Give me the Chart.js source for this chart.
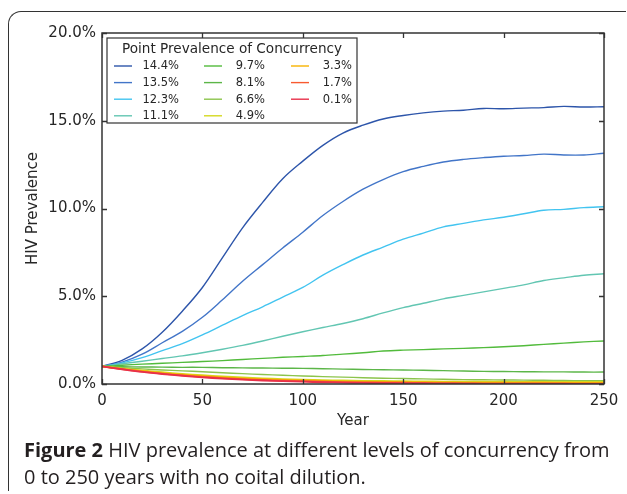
<!DOCTYPE html>
<html><head><meta charset="utf-8">
<script src="https://cdn.jsdelivr.net/npm/chart.js@4"></script>
<style>
html,body{margin:0;padding:0;background:#fff;}
#wrap{position:relative;width:627px;height:494px;overflow:hidden;background:#fff;}
#frame{position:absolute;left:8px;top:11px;width:617px;height:479px;border-top:1.5px solid #333;border-left:1.5px solid #333;border-top-left-radius:13px;}
#cv{position:absolute;left:0;top:0;}
#cap{position:absolute;left:24px;top:436px;white-space:nowrap;font-family:"Open Sans";font-size:20px;line-height:27px;color:#231f20;}
#cap b{font-weight:700;}
</style></head>
<body>
<div id="wrap">
<div id="frame"></div>
<canvas id="cv" width="627" height="494"></canvas>
<div id="cap"><b>Figure 2</b> HIV prevalence at different levels of concurrency from<br>0 to 250 years with no coital dilution.</div>
</div>
<script>
const years = [0,10,20,30,40,50,60,70,80,90,100,110,120,130,140,150,160,170,180,190,200,210,220,230,240,250];
const seriesLabels = ['14.4%','13.5%','12.3%','11.1%','9.7%','8.1%','6.6%','4.9%','3.3%','1.7%','0.1%'];
const seriesColors = ['#2d55aa','#4275c8','#42c4f0','#62c6b2','#52bb3c','#5cb648','#8cc44c','#d4d820','#f8b400','#f85a30','#e8304a'];
const xTicks = [0,50,100,150,200,250];
const yTicks = [0,5,10,15,20];

const s144 = [1.0,1.35,2.0,2.95,4.15,5.5,7.2,8.9,10.35,11.7,12.7,13.6,14.3,14.75,15.1,15.3,15.45,15.55,15.6,15.7,15.68,15.72,15.75,15.82,15.78,15.8];
const s135 = [1.0,1.25,1.7,2.35,3.0,3.8,4.8,5.85,6.8,7.75,8.65,9.6,10.4,11.1,11.65,12.1,12.4,12.65,12.8,12.9,12.98,13.02,13.1,13.05,13.05,13.15];
const s123 = [1.0,1.2,1.5,1.9,2.3,2.8,3.35,3.9,4.4,4.95,5.5,6.2,6.8,7.35,7.8,8.25,8.6,8.95,9.15,9.35,9.5,9.7,9.9,9.95,10.05,10.1];
const s111 = [1.0,1.15,1.3,1.45,1.6,1.78,1.98,2.2,2.45,2.72,2.98,3.22,3.45,3.72,4.05,4.35,4.6,4.85,5.05,5.25,5.45,5.65,5.9,6.05,6.2,6.28];
const s97  = [1.0,1.07,1.13,1.18,1.23,1.28,1.33,1.4,1.46,1.52,1.57,1.62,1.7,1.78,1.88,1.93,1.96,2.0,2.03,2.07,2.12,2.18,2.26,2.33,2.4,2.45];
const s81  = [1.0,0.98,0.97,0.96,0.95,0.95,0.93,0.92,0.91,0.9,0.89,0.87,0.85,0.83,0.81,0.8,0.78,0.76,0.74,0.72,0.71,0.7,0.69,0.69,0.68,0.68];
const s66  = [1.0,0.93,0.86,0.8,0.75,0.7,0.64,0.59,0.54,0.5,0.46,0.42,0.39,0.36,0.33,0.31,0.29,0.27,0.25,0.24,0.23,0.22,0.21,0.2,0.19,0.19];
const s49  = [1.0,0.88,0.77,0.67,0.58,0.5,0.43,0.37,0.32,0.28,0.25,0.22,0.2,0.18,0.17,0.16,0.15,0.14,0.14,0.13,0.13,0.12,0.12,0.12,0.12,0.12];
const s33  = [1.0,0.86,0.73,0.62,0.53,0.45,0.38,0.32,0.27,0.23,0.2,0.17,0.15,0.13,0.12,0.11,0.1,0.09,0.08,0.08,0.07,0.07,0.07,0.06,0.06,0.06];
const s17  = [1.0,0.85,0.71,0.59,0.49,0.41,0.34,0.28,0.23,0.19,0.16,0.13,0.11,0.09,0.08,0.07,0.06,0.05,0.04,0.04,0.03,0.03,0.03,0.03,0.02,0.02];
const s01  = [1.0,0.84,0.69,0.57,0.47,0.38,0.31,0.25,0.2,0.16,0.13,0.1,0.08,0.06,0.05,0.04,0.03,0.02,0.02,0.01,0.01,0.01,0.0,0.0,0.0,0.0];

const allSeries = [s144,s135,s123,s111,s97,s81,s66,s49,s33,s17,s01];
const legendTitle = 'Point Prevalence of Concurrency';

const datasets = allSeries.map((s,i)=>({
  label: seriesLabels[i],
  data: s.map((v,j)=>({x:years[j], y:v})),
  borderColor: seriesColors[i],
  backgroundColor: seriesColors[i],
  borderWidth: i >= 7 ? 1.8 : 1.4,
  pointRadius: 0,
  fill: false,
  tension: 0.35,
  order: allSeries.length - i
}));

const TXT = '#262626';
const decor = {
  id: 'decor',
  afterDraw(chart){
    const ctx = chart.ctx, a = chart.chartArea;
    const xs = chart.scales.x, ys = chart.scales.y;
    ctx.save();
    ctx.strokeStyle = '#333';
    ctx.lineWidth = 1.3;
    ctx.beginPath();
    xTicks.forEach(t=>{
      const px = Math.round(xs.getPixelForValue(t))+0.5;
      ctx.moveTo(px,a.bottom); ctx.lineTo(px,a.bottom-5);
      ctx.moveTo(px,a.top); ctx.lineTo(px,a.top+5);
    });
    yTicks.forEach(t=>{
      const py = Math.round(ys.getPixelForValue(t))+0.5;
      ctx.moveTo(a.left,py); ctx.lineTo(a.left+5,py);
      ctx.moveTo(a.right,py); ctx.lineTo(a.right-5,py);
    });
    ctx.stroke();
    ctx.lineWidth = 1.5;
    ctx.strokeRect(a.left, a.top, a.right-a.left, a.bottom-a.top);
    const bx = a.left+5, by = a.top+5, bw = 250, bh = 85;
    ctx.fillStyle = '#fff';
    ctx.fillRect(bx,by,bw,bh);
    ctx.lineWidth = 1.2;
    ctx.strokeStyle = '#333';
    ctx.strokeRect(bx,by,bw,bh);
    ctx.fillStyle = TXT;
    ctx.font = '13.6px "DejaVu Sans"';
    ctx.textAlign = 'center';
    ctx.textBaseline = 'middle';
    ctx.fillText(legendTitle, bx+bw/2, by+11);
    ctx.font = '11.5px "DejaVu Sans"';
    ctx.textAlign = 'right';
    const colLine = [7, 97, 184];
    const colText = [72, 158, 245];
    seriesLabels.forEach((lab,i)=>{
      const c = Math.floor(i/4), r = i%4;
      const y = by + 28 + r*16.6;
      ctx.strokeStyle = seriesColors[i];
      ctx.lineWidth = 1.4;
      ctx.beginPath();
      ctx.moveTo(bx+colLine[c], y); ctx.lineTo(bx+colLine[c]+18, y);
      ctx.stroke();
      ctx.fillStyle = TXT;
      ctx.fillText(lab, bx+colText[c], y+0.5);
    });
    ctx.restore();
  }
};

new Chart(document.getElementById('cv'), {
  type: 'line',
  data: { datasets },
  options: {
    responsive: false,
    animation: false,
    devicePixelRatio: 1,
    layout: { padding: { left: 20, right: 23, top: 33, bottom: 60 } },
    plugins: { legend: { display: false }, tooltip: { enabled: false } },
    scales: {
      x: {
        type: 'linear', min: 0, max: 250,
        afterBuildTicks(scale){ scale.ticks = xTicks.map(v=>({value:v})); },
        afterFit(scale){ scale.height = 50; },
        grid: { display: false, drawTicks: false },
        border: { display: false },
        ticks: { color: TXT, font: { family: 'DejaVu Sans', size: 15 }, padding: 8, maxRotation: 0 },
        title: { display: true, text: 'Year', color: TXT, font: { family: 'DejaVu Sans', size: 15 }, padding: { top: 4, bottom: 4 } }
      },
      y: {
        min: 0, max: 20,
        afterBuildTicks(scale){ scale.ticks = yTicks.map(v=>({value:v})); },
        afterFit(scale){ scale.width = 82; },
        grid: { display: false, drawTicks: false },
        border: { display: false },
        ticks: { color: TXT, font: { family: 'DejaVu Sans', size: 15 }, padding: 6, callback: v => v.toFixed(1) + '%' },
        title: { display: true, text: 'HIV Prevalence', color: TXT, font: { family: 'DejaVu Sans', size: 15 }, padding: { top: 4, bottom: 4 } }
      }
    }
  },
  plugins: [decor]
});
</script>
</body></html>
